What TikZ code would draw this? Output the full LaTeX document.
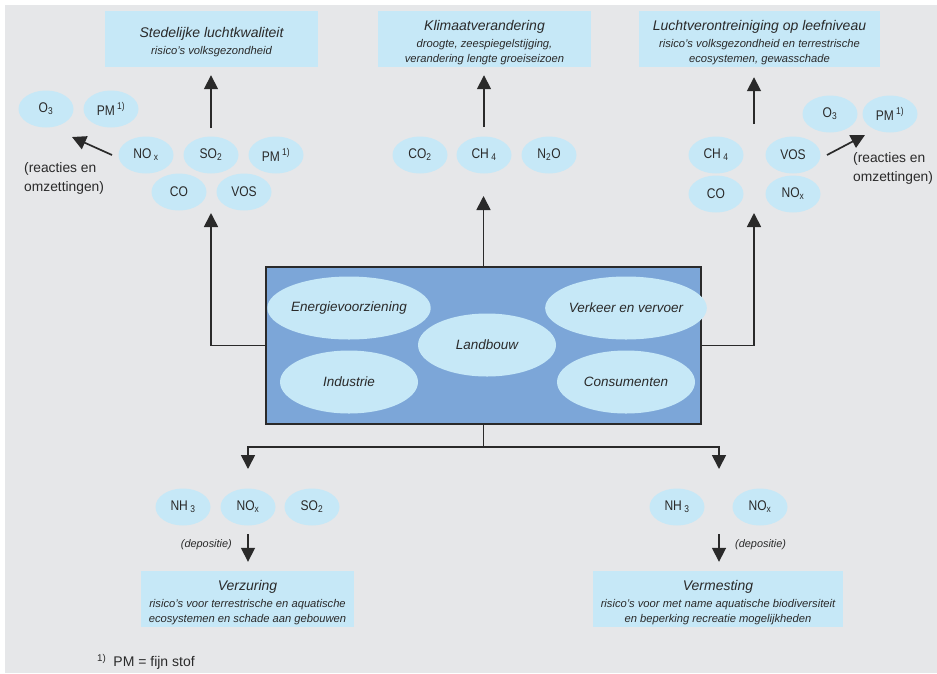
\documentclass[tikz,border=0pt]{standalone}
\usepackage{fontspec}
\setmainfont{Liberation Sans}
\newfontfamily\gasfamily{Liberation Sans}[FakeStretch=0.86]
\usetikzlibrary{arrows.meta,shapes.geometric}

\definecolor{bggray}{HTML}{E6E7E9}
\definecolor{paleblue}{HTML}{C6E8F7}
\definecolor{srcblue}{HTML}{7CA6D8}
\definecolor{ink}{HTML}{2A2A2A}

% font shortcuts for the effect boxes; the strut on the title line
% lowers the text block a little inside its box
\newcommand{\efftitle}{\itshape\fontsize{14}{17}\selectfont}
\newcommand{\effsub}{\itshape\fontsize{11.2}{14}\selectfont}
\newcommand{\efft}[1]{{\efftitle\rule{0pt}{17pt}#1}}
\newcommand{\effs}[1]{{\effsub #1}}

\begin{document}
\begin{tikzpicture}[x=1pt,y=-1pt,
  gas/.style={ellipse, fill=paleblue, minimum width=55pt, minimum height=37pt,
    inner sep=0pt, text=ink, font=\gasfamily\fontsize{14}{16}\selectfont},
  sector/.style={ellipse, fill=paleblue, minimum width=138pt, minimum height=63pt,
    inner sep=0pt, text=ink, font=\itshape\fontsize{13.5}{16}\selectfont},
  effect/.style={rectangle, fill=paleblue, text=ink, align=center, inner sep=0pt,
    minimum height=56pt},
  note/.style={text=ink, align=left, inner sep=0pt, font=\fontsize{13.8}{19}\selectfont},
  depo/.style={text=ink, inner sep=0pt, font=\itshape\fontsize{10.9}{13}\selectfont},
  arr/.style={line width=1.7pt, draw=ink, -{Triangle[width=14pt,length=14pt]}},
  link/.style={line width=1.5pt, draw=ink},
]
\useasboundingbox (0,0) rectangle (937,673);
\fill[bggray] (5,5) rectangle (937,673);

% ---- effect boxes ----
\node[effect, minimum width=213pt] (eff1) at (211.5,39)
  {\efft{Stedelijke luchtkwaliteit}\\[5pt]\effs{risico's volksgezondheid}};
\node[effect, minimum width=213pt] (eff2) at (484.5,39)
  {\efft{Klimaatverandering}\\[5pt]\effs{droogte, zeespiegelstijging,}\\[2.5pt]\effs{verandering lengte groeiseizoen}};
\node[effect, minimum width=241pt] (eff3) at (759.5,39)
  {\efft{Luchtverontreiniging op leefniveau}\\[5pt]\effs{risico's volksgezondheid en terrestrische}\\[2.5pt]\effs{ecosystemen, gewasschade}};
\node[effect, minimum width=213pt] (eff4) at (247.5,599)
  {\efft{Verzuring}\\[5pt]\effs{risico's voor terrestrische en aquatische}\\[2.5pt]\effs{ecosystemen en schade aan gebouwen}};
\node[effect, minimum width=250pt] (eff5) at (718,599)
  {\efft{Vermesting}\\[5pt]\effs{risico's voor met name aquatische biodiversiteit}\\[2.5pt]\effs{en beperking recreatie mogelijkheden}};

% ---- gases, left group ----
\node[gas] (o3a)  at (46,109)  {O\textsubscript{3}};
\node[gas] (pma)  at (111,109) {PM\,\textsuperscript{1)}};
\node[gas] (noxa) at (146,155) {NO\,\textsubscript{x}};
\node[gas] (so2a) at (211,155) {SO\textsubscript{2}};
\node[gas] (pmb)  at (276,155) {PM\,\textsuperscript{1)}};
\node[gas] (coa)  at (179,192) {CO};
\node[gas] (vosa) at (244,192) {VOS};

% ---- gases, middle group ----
\node[gas] (co2)  at (420,155) {CO\textsubscript{2}};
\node[gas] (ch4a) at (484,155) {CH\,\textsubscript{4}};
\node[gas] (n2o)  at (549,155) {N\textsubscript{2}O};

% ---- gases, right group ----
\node[gas] (ch4b) at (716,155) {CH\,\textsubscript{4}};
\node[gas] (vosb) at (793,155) {VOS};
\node[gas] (cob)  at (716,194) {CO};
\node[gas] (noxb) at (793,194) {NO\textsubscript{x}};
\node[gas] (o3b)  at (830,114) {O\textsubscript{3}};
\node[gas] (pmc)  at (890,114) {PM\,\textsuperscript{1)}};

% ---- gases, bottom ----
\node[gas] (nh3a) at (183,507) {NH\,\textsubscript{3}};
\node[gas] (noxc) at (248,507) {NO\textsubscript{x}};
\node[gas] (so2b) at (312,507) {SO\textsubscript{2}};
\node[gas] (nh3b) at (677,507) {NH\,\textsubscript{3}};
\node[gas] (noxd) at (760,507) {NO\textsubscript{x}};

% ---- sources ----
\node[rectangle, fill=srcblue, draw=ink, line width=1.5pt,
  minimum width=435pt, minimum height=157pt, inner sep=0pt] (main) at (483.5,345.5) {};
\node[sector] (energie)  at (349,308) {Energievoorziening};
\node[sector] (industrie) at (349,382) {Industrie};
\node[sector] (landbouw) at (487,345) {Landbouw};
\node[sector] (verkeer)  at (626,308) {Verkeer en vervoer};
\node[sector] (consum)   at (626,382) {Consumenten};

% ---- side notes ----
\node[note, anchor=north west] (reacta) at (24,162) {(reacties en\\omzettingen)};
\node[note, anchor=north west] (reactb) at (853,152) {(reacties en\\omzettingen)};
\node[depo, anchor=east] (depa) at (232,545) {(depositie)};
\node[depo, anchor=west] (depb) at (735,545) {(depositie)};
\node[text=ink, anchor=west, inner sep=0pt, font=\fontsize{14}{16}\selectfont] (foot) at (97,662)
  {\textsuperscript{1)}\hspace{7pt}PM = fijn stof};

% ---- connector end points ----
\coordinate (up1) at (211,128);
\coordinate (up2) at (484,127);
\coordinate (up3) at (754,124);
\coordinate (tipa) at (72,137);
\coordinate (taila) at (112,155);
\coordinate (tipb) at (865,135);
\coordinate (tailb) at (827,155);
\coordinate (mtop) at (483.5,196);
\coordinate (lup) at (211,213);
\coordinate (rup) at (754,213);
\coordinate (split) at (483.5,447);
\coordinate (ldown) at (248,469);
\coordinate (rdown) at (719,469);
\coordinate (dep1) at (248,534);
\coordinate (dep2) at (719,534);

% ---- connectors ----
\draw[arr, shorten >=8pt] (up1) -- (up1 |- eff1.south);
\draw[arr, shorten >=8pt] (up2) -- (up2 |- eff2.south);
\draw[arr, shorten >=10pt] (up3) -- (up3 |- eff3.south);
\draw[arr] (taila) -- (tipa);
\draw[arr] (tailb) -- (tipb);
\draw[arr] (main.north) -- (mtop);
\draw[arr] (main.west) -| (lup);
\draw[arr] (main.east) -| (rup);
\draw[link] (main.south) -- (split);
\draw[arr] (split) -| (ldown);
\draw[arr] (split) -| (rdown);
\draw[arr, shorten >=9pt] (dep1) -- (dep1 |- eff4.north);
\draw[arr, shorten >=9pt] (dep2) -- (dep2 |- eff5.north);
\end{tikzpicture}
\end{document}
